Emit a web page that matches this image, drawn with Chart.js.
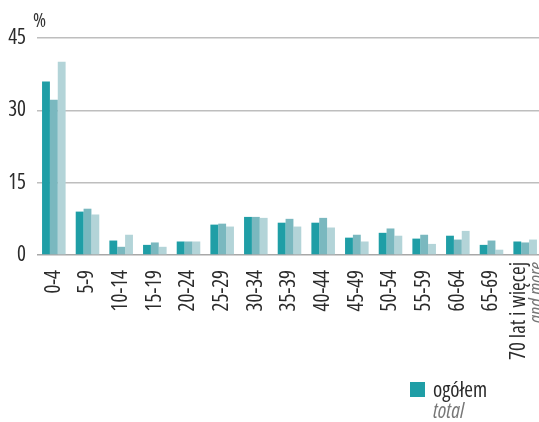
<!DOCTYPE html>
<html>
<head>
<meta charset="utf-8">
<script src="https://cdn.jsdelivr.net/npm/chart.js@4"></script>
<style>
    html, body { margin: 0; padding: 0; background: #fff; overflow: hidden; width: 539px; height: 422px; }
    .wrap { position: absolute; left: 0; top: 0; width: 545px; height: 422px; }
    .txt { font-family: 'Open Sans', sans-serif; font-stretch: condensed; }
    .unit { position: absolute; left: 33px; top: 6px; font-size: 20px; color: #333; }
    .legend { position: absolute; left: 410px; top: 380px; }
    .legend .box { position: absolute; left: 0; top: 2px; width: 15px; height: 15px; background: #1f9ea6; }
    .legend .pl { position: absolute; left: 23px; top: -5px; font-size: 21px; color: #2b2b2b; white-space: nowrap; }
    .legend .en { position: absolute; left: 23px; top: 16px; font-size: 21px; font-style: italic; color: #777; white-space: nowrap; }
</style>
</head>
<body>
<div class="wrap"><canvas id="chart" width="545" height="422"></canvas></div>
<div class="unit txt">%</div>
<div class="legend txt">
    <div class="box"></div>
    <div class="pl">ogółem</div>
    <div class="en">total</div>
</div>
<script>
    const AGE_GROUPS = ['0-4', '5-9', '10-14', '15-19', '20-24', '25-29', '30-34', '35-39',
        '40-44', '45-49', '50-54', '55-59', '60-64', '65-69', '70 lat i więcej'];
    const LAST_GROUP_EN = 'and more';
    const SERIES_1 = [36.0, 9.0, 3.0, 2.1, 2.8, 6.3, 7.9, 6.7, 6.7, 3.6, 4.6, 3.4, 4.0, 2.1, 2.8];
    const SERIES_2 = [32.2, 9.6, 1.7, 2.6, 2.8, 6.5, 7.9, 7.5, 7.7, 4.2, 5.5, 4.2, 3.2, 3.0, 2.6];
    const SERIES_3 = [40.1, 8.4, 4.2, 1.7, 2.8, 5.9, 7.7, 5.9, 5.7, 2.8, 4.0, 2.3, 5.0, 1.1, 3.2];
    const Y_TICKS = [0, 15, 30, 45];

    const FONT = "'Open Sans', sans-serif";
    const LABEL_PAD = 7;
    const LAST = AGE_GROUPS.length - 1;

    // the last label has two lines, the second grey italic, so it is drawn here
    const lastLabel = {
        id: 'lastLabel',
        afterDraw(chart) {
            const x = chart.scales.x;
            const ctx = chart.ctx;
            const px = x.getPixelForTick(LAST);
            const lines = [
                { text: AGE_GROUPS[LAST], dx: -6, font: 'condensed 21px ' + FONT, color: '#2b2b2b' },
                { text: LAST_GROUP_EN, dx: 12, font: 'italic condensed 20px ' + FONT, color: '#777' }
            ];
            lines.forEach((l) => {
                ctx.save();
                ctx.translate(px + l.dx, x.top + LABEL_PAD);
                ctx.rotate(-Math.PI / 2);
                ctx.font = l.font;
                ctx.fillStyle = l.color;
                ctx.textAlign = 'right';
                ctx.textBaseline = 'middle';
                ctx.fillText(l.text, 0, 0);
                ctx.restore();
            });
        }
    };

    const bar = (data, color) => ({
        data: data,
        backgroundColor: color,
        borderWidth: 0,
        categoryPercentage: 0.7,
        barPercentage: 1.0
    });

    new Chart(document.getElementById('chart'), {
        type: 'bar',
        data: {
            labels: AGE_GROUPS,
            datasets: [
                bar(SERIES_1, '#1f9ea6'),
                bar(SERIES_2, '#7ab8bf'),
                bar(SERIES_3, '#b3d4d8')
            ]
        },
        plugins: [lastLabel],
        options: {
            responsive: false,
            animation: false,
            layout: { padding: { top: 38, right: 3, bottom: 0, left: 0 } },
            plugins: {
                legend: { display: false },
                tooltip: { enabled: false }
            },
            scales: {
                x: {
                    grid: { display: false },
                    border: { display: false },
                    afterFit: (scale) => {
                        scale.height = 167;
                        scale.paddingLeft = 0;
                        scale.paddingRight = 0;
                    },
                    ticks: {
                        autoSkip: false,
                        minRotation: 90,
                        maxRotation: 90,
                        padding: LABEL_PAD,
                        color: '#2b2b2b',
                        callback: (v, i) => (i === LAST ? '' : AGE_GROUPS[i]),
                        // weight slot carries the stretch keyword
                        font: { family: FONT, size: 21, weight: 'condensed', lineHeight: '8px' }
                    }
                },
                y: {
                    min: 0,
                    max: 45,
                    afterFit: (scale) => { scale.width = 37; },
                    afterBuildTicks: (scale) => { scale.ticks = Y_TICKS.map((v) => ({ value: v })); },
                    border: { display: false },
                    grid: {
                        drawTicks: false,
                        lineWidth: 1.5,
                        color: (c) => (c.tick && c.tick.value === 0 ? '#a8a8a8' : '#bebebe')
                    },
                    ticks: {
                        padding: 11,
                        color: '#2b2b2b',
                        font: { family: FONT, size: 21, weight: 'condensed' }
                    }
                }
            }
        }
    });
</script>
</body>
</html>
